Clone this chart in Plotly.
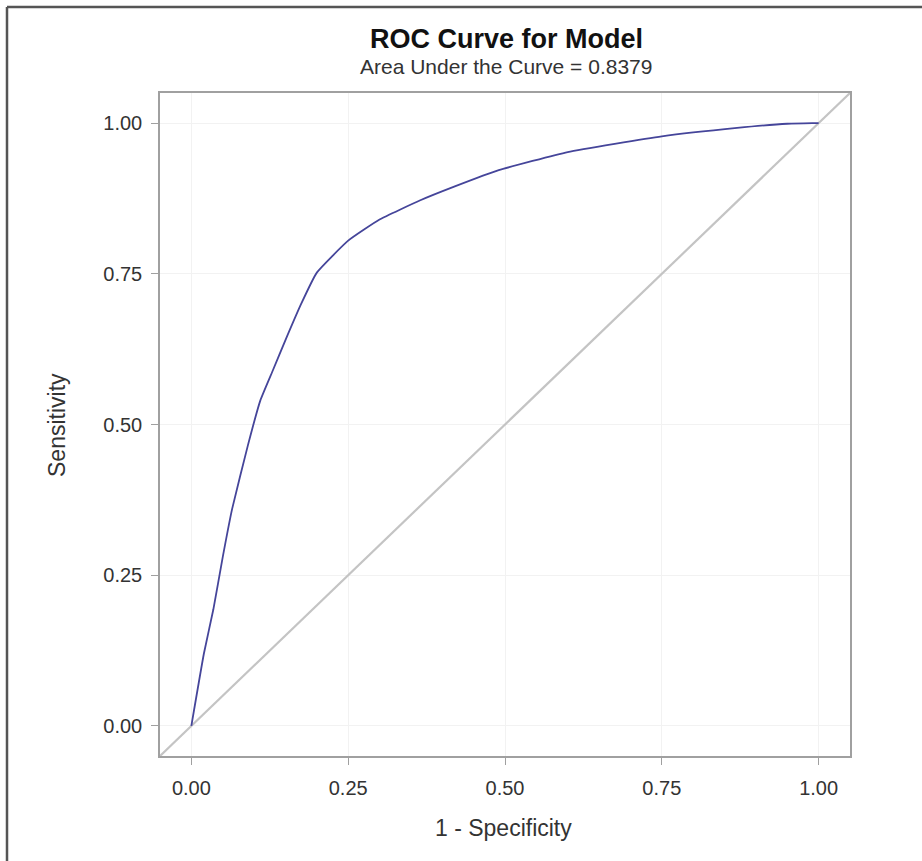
import plotly.graph_objects as go

# ROC curve data
fpr = [0.0, 0.02, 0.035, 0.05, 0.065, 0.09, 0.11, 0.13, 0.15, 0.175, 0.2,
       0.25, 0.3, 0.365, 0.42, 0.49, 0.6, 0.75, 0.87, 0.95, 0.99, 1.0]
tpr = [0.0, 0.12, 0.193, 0.28, 0.36, 0.465, 0.54, 0.59, 0.64, 0.70, 0.752,
       0.805, 0.84, 0.872, 0.895, 0.922, 0.952, 0.978, 0.992, 0.999, 1.0, 1.0]
diag = [-0.05, 1.05]
tick_vals = [0.0, 0.25, 0.5, 0.75, 1.0]
tick_text = ["0.00", "0.25", "0.50", "0.75", "1.00"]

title_text = "ROC Curve for Model"
subtitle_text = "Area Under the Curve = 0.8379"
x_title = "1 - Specificity"
y_title = "Sensitivity"

W, H = 922, 861
L, R, T, B = 160, 72, 93, 105
pw, ph = W - L - R, H - T - B


def px(xp):
    return (xp - L) / pw


def py(yp):
    return (H - B - yp) / ph


FONT = "Liberation Sans, Arial, sans-serif"

fig = go.Figure()
fig.add_trace(go.Scatter(x=diag, y=diag, mode="lines",
                         line=dict(color="#c4c4c4", width=2.2),
                         hoverinfo="skip", showlegend=False))
fig.add_trace(go.Scatter(x=fpr, y=tpr, mode="lines", line_shape="spline",
                         line=dict(color="#45459a", width=1.8, smoothing=0.4),
                         showlegend=False))

axis_common = dict(
    range=[-0.05, 1.05], tickvals=tick_vals, ticktext=tick_text,
    showgrid=True, gridcolor="#f2f2f2", gridwidth=1,
    zeroline=False, showline=True, linecolor="#a0a0a0", linewidth=1.5,
    mirror=True, ticks="outside", ticklen=7, tickcolor="#a0a0a0",
    tickfont=dict(family=FONT, size=20, color="#333333"),
)
fig.update_xaxes(**axis_common, ticklabelstandoff=6)
fig.update_yaxes(**axis_common, ticklabelstandoff=5)

fig.update_layout(
    width=W, height=H,
    margin=dict(l=L, r=R, t=T, b=B),
    paper_bgcolor="white", plot_bgcolor="white",
    font=dict(family=FONT),
    annotations=[
        dict(text="<b>" + title_text + "</b>", x=px(506), y=py(39),
             xref="paper", yref="paper", showarrow=False,
             font=dict(family=FONT, size=27, color="#111111"),
             xanchor="center", yanchor="middle"),
        dict(text=subtitle_text, x=px(506), y=py(67),
             xref="paper", yref="paper", showarrow=False,
             font=dict(family=FONT, size=21, color="#333333"),
             xanchor="center", yanchor="middle"),
        dict(text=x_title, x=px(503), y=py(828),
             xref="paper", yref="paper", showarrow=False,
             font=dict(family=FONT, size=23, color="#333333"),
             xanchor="center", yanchor="middle"),
        dict(text=y_title, x=px(57), y=py(425), textangle=-90,
             xref="paper", yref="paper", showarrow=False,
             font=dict(family=FONT, size=23, color="#333333"),
             xanchor="center", yanchor="middle"),
    ],
    shapes=[
        dict(type="line", xref="paper", yref="paper",
             x0=px(7), x1=px(930), y0=py(7), y1=py(7),
             line=dict(color="#555555", width=2.5)),
        dict(type="line", xref="paper", yref="paper",
             x0=px(7), x1=px(7), y0=py(7), y1=py(870),
             line=dict(color="#555555", width=2.5)),
    ],
)

fig.write_html("out.html")
